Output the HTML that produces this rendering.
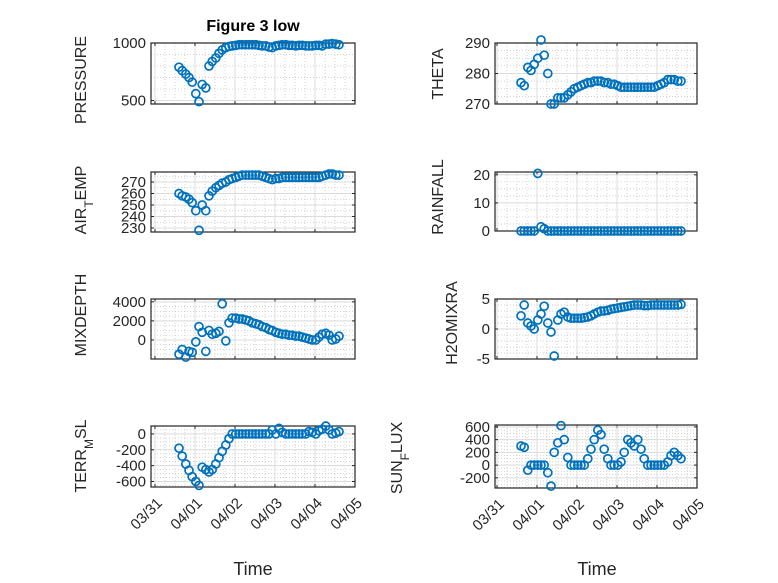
<!DOCTYPE html>
<html><head><meta charset="utf-8"><style>
html,body{margin:0;padding:0;background:#fff;}
svg{display:block;font-family:"Liberation Sans","DejaVu Sans",sans-serif;}
</style></head><body>
<svg id="fig" width="778" height="583" viewBox="0 0 778 583">
<rect width="778" height="583" fill="#fff"/>
<text x="253" y="31" text-anchor="middle" font-size="16" font-weight="bold" fill="#000">Figure 3 low</text>
</svg>
<script>
const times = [0.60,0.68,0.77,0.85,0.93,1.02,1.10,1.18,1.27,1.35,1.43,1.52,1.60,1.68,1.77,1.85,1.93,2.02,2.10,2.18,2.27,2.35,2.43,2.52,2.60,2.68,2.77,2.85,2.93,3.02,3.10,3.18,3.27,3.35,3.43,3.52,3.60,3.68,3.77,3.85,3.93,4.02,4.10,4.18,4.27,4.35,4.43,4.52,4.60];
const xTickLabels = ["03/31","04/01","04/02","04/03","04/04","04/05"];
const pressure = [790,760,730,700,660,560,490,640,610,800,840,870,910,940,960,970,975,980,985,985,985,985,985,985,980,975,975,965,960,975,980,985,985,980,980,975,980,980,975,975,975,980,980,975,990,990,995,990,985];
const theta = [277,276,282,281,283,285,291,286,280,270,270,272,272,272,273,274,275,275.5,276,276.5,277,277,277.5,277.5,277.5,277,277,276.5,276.5,276,275.5,275.5,275.5,275.5,275.5,275.5,275.5,275.5,275.5,275.5,275.5,276,276.5,277,278,278,278,277.5,277.5];
const airTemp = [260,258,257,255,252,245,228,250,245,258,262,265,267,269,270,272,273,274,275,276,276,276,276,276,276,275,274,273,272,273,273,274,274,274,274,274,274,274,274,274,274,274,274,275,276,277,277,276,276];
const rainfall = [0,0,0,0,0,20.5,1.5,0.8,0,0,0,0,0,0,0,0,0,0,0,0,0,0,0,0,0,0,0,0,0,0,0,0,0,0,0,0,0,0,0,0,0,0,0,0,0,0,0,0,0];
const mixDepth = [-1500,-1000,-1800,-1200,-1300,-200,1400,800,-1200,1000,600,700,900,3800,-100,1800,2300,2300,2200,2200,2100,2000,1800,1700,1600,1400,1300,1100,1000,800,700,600,600,500,500,400,400,300,200,100,0,0,300,600,700,500,0,100,400];
const h2oMixra = [2.2,4,1,0.5,0,1.5,2.5,3.8,1,-0.5,-4.5,1.5,2.5,2.8,2,1.8,1.8,1.8,1.8,1.9,2,2.2,2.5,2.8,3,3,3.1,3.3,3.4,3.5,3.6,3.7,3.8,3.9,4,4,4,3.9,3.9,4,4,4,4,4,4,4,4,4,4.1];
const terrMsl = [-180,-280,-380,-460,-540,-600,-650,-420,-450,-480,-450,-380,-300,-220,-140,-60,0,0,0,0,0,0,0,0,0,0,0,0,50,0,70,20,0,0,0,0,0,0,0,30,20,0,40,60,100,50,0,10,30];
const sunFlux = [300,280,-80,0,0,0,0,0,-120,-330,200,350,620,400,120,0,0,0,0,0,100,250,400,550,480,250,100,0,0,0,50,200,400,350,300,400,250,100,0,0,0,0,0,0,50,150,200,150,100];
const pressureTicks=[500,1000], thetaTicks=[270,280,290], airTicks=[230,240,250,260,270], rainTicks=[0,10,20], mixTicks=[0,2000,4000], h2oTicks=[-5,0,5], terrTicks=[-600,-400,-200,0], sunTicks=[-200,0,200,400,600];

const NS="http://www.w3.org/2000/svg";
const svg=document.getElementById('fig');
function mk(tag,attrs,parent){const e=document.createElementNS(NS,tag);for(const k in attrs)e.setAttribute(k,attrs[k]);(parent||svg).appendChild(e);return e;}

const panels=[
 {key:'pressure',vals:pressure,ticks:pressureTicks,ymin:470,ymax:1000,minor:100,L:151,R:355,T:43,B:104,x0:155,dx:40,lab:'PRESSURE',lx:86,ly:80,xl:false},
 {key:'theta',vals:theta,ticks:thetaTicks,ymin:270,ymax:290,minor:2.5,L:495,R:697,T:43,B:104,x0:497,dx:40,lab:'THETA',lx:443,ly:74,xl:false},
 {key:'air-temp',vals:airTemp,ticks:airTicks,ymin:226.5,ymax:278.7,minor:5,L:151,R:355,T:172,B:232,x0:155,dx:40,lab:'AIR',sub:'T',rest:'EMP',lx:86,ly:200,xl:false},
 {key:'rainfall',vals:rainfall,ticks:rainTicks,ymin:0,ymax:21,minor:2.5,L:495,R:697,T:172,B:231,x0:497,dx:40,lab:'RAINFALL',lx:443,ly:197,xl:false},
 {key:'mixdepth',vals:mixDepth,ticks:mixTicks,ymin:-2000,ymax:4300,minor:500,L:151,R:355,T:299,B:359,x0:155,dx:40,lab:'MIXDEPTH',lx:86,ly:315,xl:false},
 {key:'h2omixra',vals:h2oMixra,ticks:h2oTicks,ymin:-5,ymax:5,minor:1,L:495,R:697,T:299,B:359,x0:497,dx:40,lab:'H2OMIXRA',lx:457,ly:323,xl:false},
 {key:'terr-msl',vals:terrMsl,ticks:terrTicks,ymin:-670,ymax:100,minor:50,L:151,R:355,T:426,B:487,x0:155,dx:40,lab:'TERR',sub:'M',rest:'SL',lx:86,ly:456,xl:true},
 {key:'sun-flux',vals:sunFlux,ticks:sunTicks,ymin:-360,ymax:630,minor:50,L:495,R:697,T:425,B:488,x0:497,dx:40,lab:'SUN',sub:'F',rest:'LUX',lx:402,ly:458,xl:true}
];

panels.forEach(p=>{
  const g=mk('g',{});
  
  
  const xs=d=>p.x0+p.dx*d;
  const ys=v=>p.B-(v-p.ymin)/(p.ymax-p.ymin)*(p.B-p.T);
  mk('rect',{x:p.L,y:p.T,width:p.R-p.L,height:p.B-p.T,fill:'#fff'},g);
  for(let d=0;d<=5;d+=0.25){const x=xs(d); if(x<=p.L||x>=p.R)continue;
    mk('line',{x1:x,x2:x,y1:p.T,y2:p.B,stroke:'#c0c0c0','stroke-width':0.7,'stroke-dasharray':'1 2'},g);}
  const start=Math.ceil(p.ymin/p.minor)*p.minor;
  for(let v=start;v<=p.ymax;v+=p.minor){const y=ys(v);
    mk('line',{x1:p.L,x2:p.R,y1:y,y2:y,stroke:'#c0c0c0','stroke-width':0.7,'stroke-dasharray':'1 2'},g);}
  xTickLabels.forEach((t,i)=>{const x=xs(i); if(x<p.L||x>p.R)return;
    mk('line',{x1:x,x2:x,y1:p.T,y2:p.B,stroke:'#dcdcdc','stroke-width':1},g);
    mk('line',{x1:x,x2:x,y1:p.B,y2:p.B-3,stroke:'#262626','stroke-width':1},g);
    mk('line',{x1:x,x2:x,y1:p.T,y2:p.T+3,stroke:'#262626','stroke-width':1},g);
    if(p.xl){const ex=x+8, ey=p.B+17;
      const tx=mk('text',{x:ex,y:ey,'text-anchor':'end','font-size':15,fill:'#262626',transform:`rotate(-45 ${ex} ${ey})`},g);
      tx.textContent=t;
      
      }
  });
  p.ticks.forEach(v=>{const y=ys(v);
    mk('line',{x1:p.L,x2:p.R,y1:y,y2:y,stroke:'#dcdcdc','stroke-width':1},g);
    mk('line',{x1:p.L,x2:p.L+3,y1:y,y2:y,stroke:'#262626'},g);
    mk('line',{x1:p.R,x2:p.R-3,y1:y,y2:y,stroke:'#262626'},g);
    const tx=mk('text',{x:p.L-5,y:y+5,'text-anchor':'end','font-size':15,fill:'#262626'},g);
    tx.textContent=String(v);
    
    
  });
  mk('rect',{x:p.L,y:p.T,width:p.R-p.L,height:p.B-p.T,fill:'none',stroke:'#262626','stroke-width':1.2},g);
  p.vals.forEach((v,i)=>{
    const c=mk('circle',{cx:xs(times[i]),cy:ys(v),r:4,fill:'none',stroke:'#0072BD','stroke-width':1.7},g);
    
    
  });
  const lt=mk('text',{x:p.lx,y:p.ly,'text-anchor':'middle','font-size':16,fill:'#262626',transform:`rotate(-90 ${p.lx} ${p.ly})`},g);
  
  
  if(p.sub){
    const a=mk('tspan',{},lt);a.textContent=p.lab;
    const b=mk('tspan',{'baseline-shift':'sub','font-size':12},lt);b.textContent=p.sub;
    const c=mk('tspan',{},lt);c.textContent=p.rest;
  } else lt.textContent=p.lab;
});
[[253,'left'],[597,'right']].forEach(([x,s])=>{
  const t=mk('text',{x:x,y:575,'text-anchor':'middle','font-size':18,fill:'#262626'});
  t.textContent='Time';
  
  
});
</script>
</body></html>
